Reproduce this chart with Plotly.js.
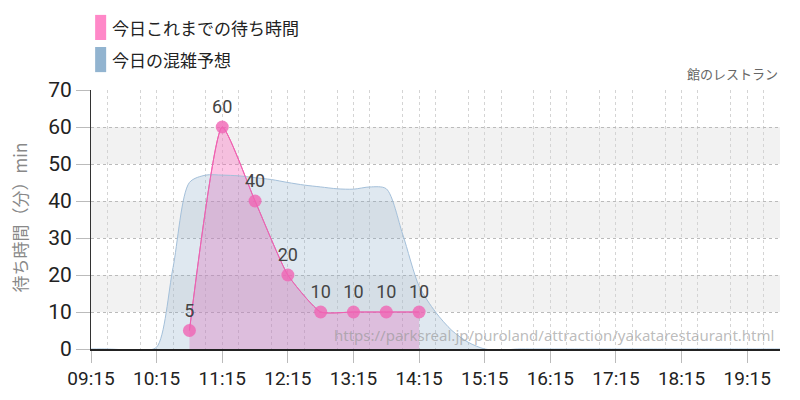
<!DOCTYPE html>
<html>
<head>
<meta charset="utf-8">
<script src="https://cdn.plot.ly/plotly-3.0.1.min.js"></script>
<style>
body { margin: 0; background: #fff; }
#chart { width: 800px; height: 400px; }
</style>
</head>
<body>
<div id="chart"></div>
<script>
// 今日これまでの待ち時間 (actual)
var waitTimes = ['10:45', '11:15', '11:45', '12:15', '12:45', '13:15', '13:45', '14:15'];
var waitValues = [5, 60, 40, 20, 10, 10, 10, 10];

// 今日の混雑予想 (forecast, every 15 min)
var forecastTimes = ['09:15', '09:30', '09:45', '10:00', '10:15', '10:30', '10:45', '11:00',
  '11:15', '11:30', '11:45', '12:00', '12:15', '12:30', '12:45', '13:00', '13:15', '13:30',
  '13:45', '14:00', '14:15', '14:30', '14:45', '15:00', '15:15', '15:30', '15:45', '16:00',
  '16:30', '17:00', '17:30', '18:00', '18:30', '19:00', '19:30', '19:45'];
var forecastValues = [0, 0, -0.2, -0.4, 0.5, 22, 45, 47,
  47, 46.8, 46.3, 45.8, 45, 44.3, 43.8, 43.3, 43.2, 43.8,
  43.3, 31, 17, 10, 5, 1.8, 0, -0.3, 0, 0,
  0, 0, 0, 0, 0, 0, 0, 0];

var bandFrom = [10, 30, 50];
var bandTo = [20, 40, 60];

var numFont = 'Roboto, sans-serif';
var jpFont = 'Noto Sans CJK JP, Noto Sans, sans-serif';

function toDate(t) { return '2024-01-01 ' + t; }

var pinkLine = { color: '#f060b0', width: 1, shape: 'spline', smoothing: 0.5 };

// pink area goes first, the forecast is laid over it
var actualFill = {
  x: waitTimes.map(toDate),
  y: waitValues,
  type: 'scatter',
  mode: 'lines',
  line: pinkLine,
  fill: 'tozeroy',
  fillcolor: 'rgba(250,100,185,0.36)',
  hoverinfo: 'skip',
  showlegend: false
};

var forecast = {
  x: forecastTimes.map(toDate),
  y: forecastValues,
  type: 'scatter',
  mode: 'lines',
  line: { color: '#a4c0da', width: 1, shape: 'spline', smoothing: 0.8 },
  fill: 'tozeroy',
  fillcolor: 'rgba(128,164,196,0.25)',
  hoverinfo: 'skip',
  showlegend: false
};

var actual = {
  x: waitTimes.map(toDate),
  y: waitValues,
  type: 'scatter',
  mode: 'lines+markers+text',
  line: pinkLine,
  marker: { size: 13, color: 'rgba(240,100,180,0.8)' },
  text: waitValues.map(String),
  textposition: 'top center',
  textfont: { family: numFont, size: 18, color: '#444' },
  cliponaxis: false,
  showlegend: false
};

var shapes = [];
for (var i = 0; i < bandFrom.length; i++) {
  shapes.push({
    type: 'rect', xref: 'paper', yref: 'y', x0: 0, x1: 1,
    y0: bandFrom[i], y1: bandTo[i],
    fillcolor: '#f2f2f2', line: { width: 0 }, layer: 'below'
  });
}
// legend swatches
shapes.push({ type: 'rect', xref: 'paper', yref: 'paper', x0: 0.006, x1: 0.022, y0: 1.193, y1: 1.29,
  fillcolor: '#ff88c8', line: { width: 0 } });
shapes.push({ type: 'rect', xref: 'paper', yref: 'paper', x0: 0.006, x1: 0.022, y0: 1.069, y1: 1.166,
  fillcolor: '#92b4d0', line: { width: 0 } });

var layout = {
  width: 800,
  height: 400,
  margin: { l: 91, r: 20, t: 90, b: 51 },
  paper_bgcolor: '#fff',
  plot_bgcolor: '#fff',
  showlegend: false,
  xaxis: {
    type: 'date',
    range: [toDate('09:15'), toDate('19:45')],
    tick0: toDate('09:15'),
    dtick: 3600000,
    tickformat: '%H:%M',
    ticks: 'outside',
    ticklen: 12,
    tickcolor: '#bbb',
    tickfont: { family: numFont, size: 19, color: '#222' },
    showgrid: true,
    gridcolor: '#d4d4d4',
    griddash: '3px,3px',
    minor: { dtick: 1800000, showgrid: true, gridcolor: '#d4d4d4', griddash: '3px,3px' },
    showline: true,
    linecolor: '#222',
    linewidth: 1.5,
    zeroline: false,
    fixedrange: true
  },
  yaxis: {
    range: [0, 70],
    dtick: 10,
    ticks: 'outside',
    ticklen: 14,
    tickcolor: '#bbb',
    tickfont: { family: numFont, size: 21, color: '#222' },
    showgrid: true,
    gridcolor: '#bbb',
    griddash: 'dot',
    showline: true,
    linecolor: '#333',
    zeroline: false,
    fixedrange: true
  },
  shapes: shapes,
  annotations: [
    { text: '今日これまでの待ち時間', xref: 'paper', yref: 'paper', x: 0.028, y: 1.241,
      xanchor: 'left', yanchor: 'middle', showarrow: false,
      font: { family: jpFont, size: 17, color: '#222' } },
    { text: '今日の混雑予想', xref: 'paper', yref: 'paper', x: 0.028, y: 1.117,
      xanchor: 'left', yanchor: 'middle', showarrow: false,
      font: { family: jpFont, size: 17, color: '#222' } },
    { text: '館のレストラン', xref: 'paper', yref: 'paper', x: 1, y: 1,
      xanchor: 'right', yanchor: 'bottom', yshift: 5, showarrow: false,
      font: { family: jpFont, size: 13, color: '#666' } },
    { text: 'https://parksreal.jp/puroland/attraction/yakatarestaurant.html',
      xref: 'paper', yref: 'paper', x: 1, y: 0, xshift: -4, yshift: 2,
      xanchor: 'right', yanchor: 'bottom', showarrow: false,
      font: { family: 'Noto Sans, sans-serif', size: 15, color: 'rgba(150,150,150,0.65)' } },
    { text: '待ち時間（分）min', xref: 'paper', yref: 'paper', x: 0, y: 0.5,
      xshift: -72, yshift: 2, xanchor: 'center', yanchor: 'middle', textangle: -90, showarrow: false,
      font: { family: jpFont, size: 17, color: '#888' } }
  ]
};

Plotly.newPlot('chart', [actualFill, forecast, actual], layout, { displayModeBar: false, staticPlot: true });
</script>
</body>
</html>
